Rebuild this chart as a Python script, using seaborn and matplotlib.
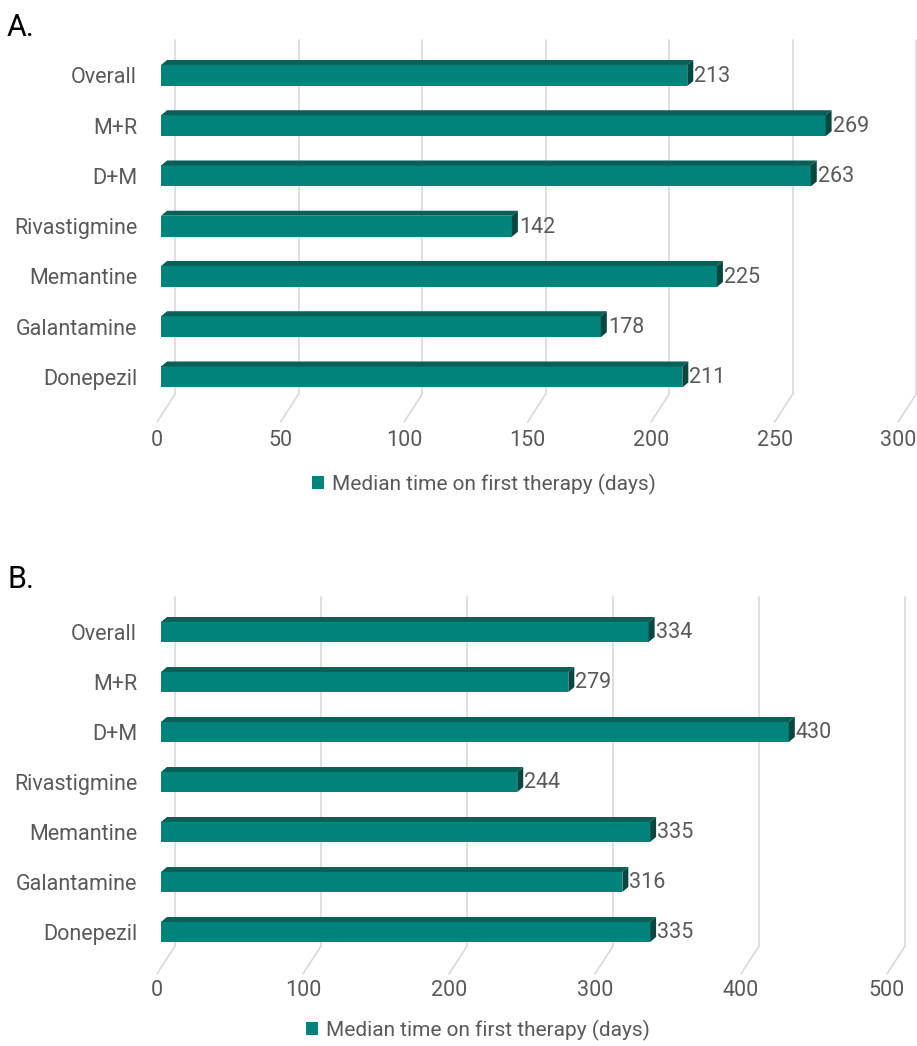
import numpy as np
import seaborn as sns
import matplotlib.pyplot as plt
from matplotlib.patches import Polygon, Patch
from matplotlib.transforms import ScaledTranslation

# data
categories = ['Overall', 'M+R', 'D+M', 'Rivastigmine', 'Memantine', 'Galantamine', 'Donepezil']
values_a = [213, 269, 263, 142, 225, 178, 211]
values_b = [334, 279, 430, 244, 335, 316, 335]
ticks_a = [0, 50, 100, 150, 200, 250, 300]
ticks_b = [0, 100, 200, 300, 400, 500]
legend_label = 'Median time on first therapy (days)'

FRONT = '#00837a'
TOP = '#0a5f57'
SIDE = '#07473f'
GRID = '#d9d9d9'
TEXT = '#595959'

sns.set_style('white')
plt.rcParams['font.family'] = ['Roboto', 'DejaVu Sans']

W, H = 917, 1046
fig = plt.figure(figsize=(W / 100, H / 100), dpi=100)


def px_axes(left, top, right, bottom):
    return fig.add_axes([left / W, 1 - bottom / H, (right - left) / W, (bottom - top) / H])


def panel(ax, values, ticks, xlim, ylim, bar_h, xpad):
    sns.barplot(x=values, y=categories, orient='h', color=FRONT, saturation=1,
                width=bar_h, ax=ax, edgecolor='none', zorder=3)
    ax.set_xlim(*xlim)
    ax.set_ylim(*ylim)
    for s in ax.spines.values():
        s.set_visible(False)
    ax.set_xticks(ticks)
    ax.set_xticklabels([str(t) for t in ticks])
    ax.tick_params(axis='x', length=0, pad=xpad, labelsize=15.5, labelcolor=TEXT)
    ax.tick_params(axis='y', length=0, pad=8.5, labelsize=15.5, labelcolor=TEXT)
    # front-plane labels sit a little left of the bar origin
    shift = ScaledTranslation(-4 / 100, 0, fig.dpi_scale_trans)
    for lab in ax.get_xticklabels():
        lab.set_transform(lab.get_transform() + shift)
    ax.set_xlabel('')
    ax.set_ylabel('')

    # pixel sizes -> data units
    p0 = ax.transData.transform((0, 0))
    p1 = ax.transData.transform((1, 1))
    ppx = p1[0] - p0[0]
    ppy = abs(p1[1] - p0[1])
    ax_h = ax.get_window_extent().height

    # back wall gridlines and floor diagonals
    for t in ticks:
        ax.plot([t + 14 / ppx, t + 14 / ppx], [28 / ax_h, 1], color=GRID, lw=1.2,
                transform=ax.get_xaxis_transform(), zorder=0, clip_on=False)
        ax.plot([t - 4 / ppx, t + 14 / ppx], [0, 28 / ax_h], color=GRID, lw=1.2,
                transform=ax.get_xaxis_transform(), zorder=0, clip_on=False)

    # fake 3D: top and end faces
    dx, dy = 6 / ppx, 5 / ppy
    for p, v in zip(list(ax.patches), values):
        x0, y0, w, h = p.get_x(), p.get_y(), p.get_width(), p.get_height()
        top = [(x0, y0), (x0 + w, y0), (x0 + w + dx, y0 - dy), (x0 + dx, y0 - dy)]
        side = [(x0 + w, y0), (x0 + w + dx, y0 - dy), (x0 + w + dx, y0 + h - dy), (x0 + w, y0 + h)]
        ax.add_patch(Polygon(top, closed=True, color=TOP, lw=0, zorder=4))
        ax.add_patch(Polygon(side, closed=True, color=SIDE, lw=0, zorder=4))
        ax.text(x0 + w + dx + 1 / ppx, y0 + h / 2 + 1 / ppy, str(v), ha='left', va='center',
                fontsize=15.5, color=TEXT, zorder=5)


ax_a = px_axes(149, 40, 917, 422)
panel(ax_a, values_a, ticks_a, (-4.9, 306), (6.896, -0.706), 0.418, 6)

ax_b = px_axes(149, 597, 917, 974)
panel(ax_b, values_b, ticks_b, (-8.2, 517.8), (6.84, -0.70), 0.40, 4)

handle = [Patch(facecolor=FRONT, edgecolor='none', label=legend_label)]
for cy, cx in ((484, 484), (1030, 478)):
    fig.legend(handles=handle, loc='center', bbox_to_anchor=(cx / W, 1 - cy / H),
               frameon=False, fontsize=15, labelcolor=TEXT, handlelength=0.55,
               handleheight=0.55, handletextpad=0.4)

fig.text(7 / W, 1 - 27 / H, 'A.', fontsize=22, color='black', va='center', ha='left')
fig.text(7 / W, 1 - 580 / H, 'B.', fontsize=22, color='black', va='center', ha='left')

fig.savefig('out.png', dpi=100)
